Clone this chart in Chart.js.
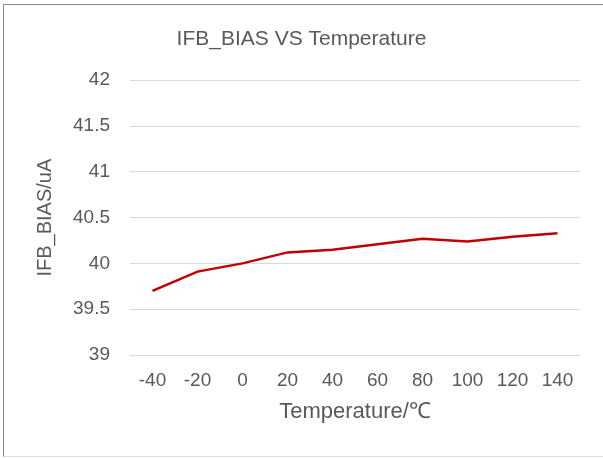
<!DOCTYPE html>
<html>
<head>
<meta charset="utf-8">
<script src="https://cdn.jsdelivr.net/npm/chart.js@4"></script>
<style>
  body { margin: 0; background: #fff; overflow: hidden; }
  #wrap { position: relative; width: 603px; height: 458px; overflow: hidden; }
  #frame { position: absolute; left: 3px; top: 4px; width: 640px; height: 451px;
           border: 1px solid #8c8c8c; border-bottom-color: #e0e0e0; }
  canvas { position: absolute; left: 0; top: 0; }
</style>
</head>
<body>
<div id="wrap">
  <div id="frame"></div>
  <canvas id="chart" width="603" height="458"></canvas>
</div>
<script>
// temperature points (°C) and measured bias current (uA)
const temperatures = ['-40', '-20', '0', '20', '40', '60', '80', '100', '120', '140'];
const ifbBias = [39.70, 39.91, 40.00, 40.12, 40.15, 40.21, 40.27, 40.24, 40.29, 40.33];
const yMin = 39;
const yMax = 42;
const yStep = 0.5;

const textColor = '#595959';
const fontFamily = '"Liberation Sans", Arial, sans-serif';

const ctx = document.getElementById('chart').getContext('2d');
new Chart(ctx, {
  type: 'line',
  data: {
    labels: temperatures,
    datasets: [{
      label: 'IFB_BIAS',
      data: ifbBias,
      borderColor: '#c00000',
      borderWidth: 2.5,
      pointRadius: 0,
      tension: 0,
      fill: false
    }]
  },
  options: {
    responsive: false,
    animation: false,
    layout: {
      padding: 0
    },
    plugins: {
      legend: { display: false },
      tooltip: { enabled: false },
      title: {
        display: true,
        text: 'IFB_BIAS VS Temperature',
        color: textColor,
        font: { family: fontFamily, size: 21, weight: 'normal' },
        padding: { top: 27, bottom: 28 }
      }
    },
    scales: {
      x: {
        offset: true,
        grid: { display: false, drawTicks: false },
        border: { display: false },
        ticks: {
          color: textColor,
          font: { family: fontFamily, size: 19 },
          padding: 14,
          maxRotation: 0,
          autoSkip: false
        },
        title: {
          display: true,
          text: 'Temperature/℃',
          color: textColor,
          font: { family: fontFamily, size: 22 },
          padding: { top: 33, bottom: 33 }
        },
        afterFit: function (scale) { scale.height = 103; }
      },
      y: {
        min: yMin,
        max: yMax,
        grid: { color: '#d9d9d9', lineWidth: 1, drawTicks: false },
        border: { display: false },
        ticks: {
          stepSize: yStep,
          color: textColor,
          font: { family: fontFamily, size: 19 },
          padding: 20,
          callback: function (value) { return String(value); }
        },
        title: {
          display: true,
          text: 'IFB_BIAS/uA',
          color: textColor,
          font: { family: fontFamily, size: 20 },
          padding: { top: 33, bottom: 33 }
        },
        afterFit: function (scale) { scale.width = 130; }
      },
      // empty right-hand spacer so the plot stops short of the frame
      spacer: {
        position: 'right',
        grid: { display: false, drawTicks: false },
        border: { display: false },
        ticks: { display: false },
        afterFit: function (scale) { scale.width = 23; }
      }
    }
  }
});
</script>
</body>
</html>
